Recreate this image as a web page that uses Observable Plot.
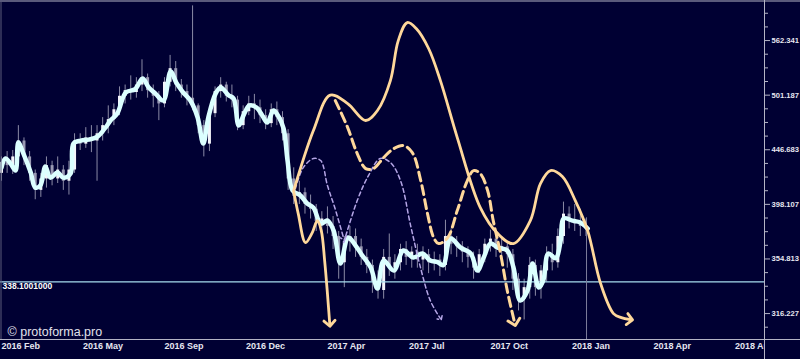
<!DOCTYPE html>
<html><head><meta charset="utf-8">
<script src="https://cdn.jsdelivr.net/npm/d3@7"></script>
<script src="https://cdn.jsdelivr.net/npm/@observablehq/plot@0.6"></script>
<style>html,body{margin:0;padding:0;background:#000033;overflow:hidden}</style>
</head><body><div id="chart"></div>
<script>
// x positions are in weeks since the first bar (2016 Feb)
const xTickWeeks = [0,14.5,29,43.5,58,72.5,87,101.5,116,130.5];
const xTickLabels = ["2016 Feb","2016 May","2016 Sep","2016 Dec","2017 Apr","2017 Jul","2017 Oct","2018 Jan","2018 Apr","2018 Aug"];
const yTickValues = [316.228,354.813,398.107,446.684,501.187,562.341];
const yTickLabels = ["316.227","354.813","398.107","446.683","501.187","562.341"];
const yMinorTicks = [307.26,325.46,334.97,344.75,365.17,375.83,386.81,409.73,421.69,434.0,459.73,473.15,486.96,515.82,530.88,546.38,578.76,595.66];

const candleOpen = [425,435,432,440,455,440,425,410,420,432, 420,428,418,428,455,452,458,455,462,470, 476,486,500,506,504,512,520,506,500,492, 515,530,512,505,498,490,470,452,482,505, 512,500,496,470,484,492,488,480,472,486, 478,462,420,405,408,398,394,384,386,380, 372,352,368,372,364,356,350,338,332,356, 348,352,362,356,360,354,358,352,354,350, 372,366,364,360,356,348,358,366,370,362, 364,358,340,326,334,350,334,346,358,352, 372,390,385,382,380];
const candleClose = [435,432,440,455,440,425,410,420,432,420, 428,418,428,455,452,458,455,462,470,476, 486,500,506,504,512,520,506,500,492,515, 530,512,505,498,490,470,452,482,505,512, 500,496,470,484,492,488,480,472,486,478, 462,420,405,408,398,394,384,386,380,372, 352,368,372,364,356,350,338,332,356,348, 352,362,356,360,354,358,352,354,350,372, 366,364,360,356,348,358,366,370,362,364, 358,340,326,334,350,334,346,358,352,372, 390,385,382,380,378];
const candleHigh = [440,445,446,470,458,445,428,425,440,436, 440,432,436,462,462,468,470,470,478,490, 492,510,512,522,520,540,524,512,505,520, 545,538,518,512,605,492,475,486,510,520, 515,512,500,490,500,502,496,486,492,494, 484,466,430,418,412,406,398,392,396,388, 376,372,380,378,370,362,354,346,362,374, 358,366,368,364,366,364,362,360,358,385, 378,372,368,364,360,362,370,377,374,372, 368,362,344,340,356,354,350,364,366,378, 400,396,398,394,386];
const candleLow = [418,425,424,436,432,418,402,404,412,414, 416,410,406,425,446,448,444,418,455,462, 470,480,492,496,498,505,498,488,475,488, 510,505,498,490,485,462,440,445,478,498, 494,488,465,466,480,476,472,466,468,470, 455,410,398,398,390,386,376,372,374,362, 340,334,360,356,350,344,330,326,326,342, 340,346,350,348,348,346,344,346,342,346, 358,356,352,348,340,344,352,360,356,352, 348,332,318,312,326,328,326,338,346,348, 366,378,376,372,372];

const priceWeek = [0,0.7,1.6,2.5,3.0,3.9,5.2,6.0,6.9,7.8,8.7,10.0,11.0,12.3,12.8,14.1,15.5,17.1,18.5,19.4,20.6,22.1,23.8,25.1,26.2,27.4,28.8,30.1,31.1,32.2,33.6,34.9,35.9,36.8,38.1,39.0,40.4,41.3,42.2,43.2,44.1,45.4,46.4,47.3,48.4,49.3,50.2,50.9,51.8,53.2,54.4,55.5,56.8,58.0,59.1,60.3,61.7,63.0,64.2,65.7,66.9,68.0,69.8,71.5,73.3,74.9,76.3,77.6,78.6,79.9,81.7,83.5,84.7,85.8,87.0,88.3,90.0,91.1,92.3,93.6,94.5,95.6,96.4,97.3,98.6,99.5,100.0,101.6,103.0,104.3];
const priceValue = [430.2,438.5,433.9,427.5,453.5,443.1,425.7,412.5,414.2,431.1,421.2,425.7,421.2,424.8,452.6,455.4,456.3,459.3,468.1,475.1,482.1,503.9,507.6,519.0,509.3,502.8,495.5,526.8,514.7,505.0,495.5,478.1,452.6,478.1,502.8,509.3,501.2,497.6,470.1,482.1,490.3,488.2,480.1,473.1,485.2,479.1,467.1,436.6,409.9,405.6,398.8,395.4,382.3,384.7,376.7,351.4,371.2,365.0,357.4,348.5,333.4,353.6,346.2,361.2,355.9,358.9,353.6,352.4,350.2,370.4,363.4,358.9,346.2,355.9,366.5,363.4,361.2,348.5,325.0,331.9,351.4,334.1,339.0,358.9,355.3,368.9,386.4,384.7,383.1,378.3];

const mainWeek = [52.0,55.5,58.5,61.6,64.8,66.9,69.2,70.6,72.2,73.8,76.0,78.1,81.1,85.2,88.3,91.1,94.1,95.9,97.7,99.8,102.1,104.3,106.6,108.9,110.3,111.8];
const mainValue = [409.9,465.1,501.2,492.4,475.1,485.2,516.8,562.3,584.1,576.8,553.0,516.8,458.3,395.4,374.3,366.5,384.7,416.0,427.5,422.1,401.3,376.7,336.9,316.2,313.5,312.3];
const shortWeek = [52.0,52.8,54.1,55.3,56.2,56.9,57.5,58.0,58.4];
const shortValue = [409.0,390.4,367.3,375.1,384.7,376.7,353.6,329.8,309.7];
const dashWeek = [59.4,61.6,63.3,64.8,66.2,68.0,69.8,71.5,73.1,74.6,75.8,76.9,77.8,79.4,81.1,82.9,84.0,85.2,86.5,87.5,88.8,90.0,91.3];
const dashValue = [495.5,468.1,443.1,429.3,429.3,439.4,447.8,450.7,444.0,418.6,390.4,371.2,366.5,371.2,392.9,418.6,427.5,424.8,409.9,384.7,358.9,331.9,310.3];
const lav1Week = [52.3,53.7,55.5,56.8,58.0,59.3,60.9];
const lav1Value = [411.6,430.2,438.5,436.6,414.2,395.4,370.4];
const lav2Week = [60.9,63.3,65.3,67.4,69.2,71.0,72.8,74.6,76.3,78.1];
const lav2Value = [367.3,401.3,423.0,438.5,434.8,418.6,380.7,347.7,325.0,312.9];

const levelValue = 338.1001;
const levelLabel = "338.1001000";
const cursorWeek = 104.1;
const copyright = "© protoforma.pro";

const BG = "#000033";
const rows = (ws, vs) => ws.map((w, i) => ({w, v: vs[i]}));
const candles = candleOpen.map((o, i) => ({w: i, o, c: candleClose[i], h: candleHigh[i], l: candleLow[i]}));
const xMin = -0.178, xMax = 135.77, yMin = 299.4, yMax = 611.9;
const axisColor = "#b4b4c6";

const chart = Plot.plot({
  width: 800, height: 359,
  marginLeft: 0, marginRight: 36, marginTop: 0, marginBottom: 20,
  style: {background: BG, color: "#e6e6f0", fontFamily: "'Liberation Sans', Arial, sans-serif", fontSize: "9px", fontWeight: "bold", overflow: "visible"},
  x: {domain: [xMin, xMax], axis: null},
  y: {type: "log", domain: [yMin, yMax], axis: null},
  marks: [
    Plot.ruleX(candles, {x: "w", y1: "l", y2: "h", stroke: "#8a8aa6", strokeWidth: 1}),
    Plot.ruleX(candles.filter(d => d.c < d.o), {x: "w", y1: "o", y2: "c", stroke: "#9a9ab4", strokeWidth: 3}),
    Plot.ruleX(candles.filter(d => d.c >= d.o), {x: "w", y1: "o", y2: "c", stroke: "#f4f4fa", strokeWidth: 3}),
    Plot.ruleY([levelValue], {x1: xMin, x2: xMax, stroke: "#a6dcef", strokeWidth: 1.3}),
    Plot.text([levelLabel], {x: xMin, y: levelValue, text: d => d, textAnchor: "start", lineAnchor: "top", dx: 2, dy: 1, fill: "#ffffff", fontSize: 8.5}),
    Plot.ruleX([cursorWeek], {y1: 387, y2: yMin, stroke: "#7c7c9c", strokeWidth: 1}),
    Plot.line(rows(priceWeek, priceValue), {x: "w", y: "v", stroke: "#dcffff", strokeWidth: 4.5, curve: "catmull-rom", strokeLinejoin: "round"}),
    Plot.line(rows(lav1Week, lav1Value), {x: "w", y: "v", stroke: "#b4a5e6", strokeWidth: 1.5, strokeDasharray: "4,3", curve: "catmull-rom", markerEnd: "arrow"}),
    Plot.line(rows(lav2Week, lav2Value), {x: "w", y: "v", stroke: "#b4a5e6", strokeWidth: 1.5, strokeDasharray: "4,3", curve: "catmull-rom", markerEnd: "arrow"}),
    Plot.line(rows(shortWeek, shortValue), {x: "w", y: "v", stroke: "#ffd89b", strokeWidth: 2.8, curve: "catmull-rom", markerEnd: "arrow"}),
    Plot.line(rows(mainWeek, mainValue), {x: "w", y: "v", stroke: "#ffd89b", strokeWidth: 2.8, curve: "catmull-rom", markerEnd: "arrow"}),
    Plot.line(rows(dashWeek, dashValue), {x: "w", y: "v", stroke: "#ffd89b", strokeWidth: 3, strokeDasharray: "9,5", curve: "catmull-rom", markerEnd: "arrow"}),
    Plot.text([copyright], {frameAnchor: "bottom-left", text: d => d, textAnchor: "start", lineAnchor: "bottom", dx: 7, dy: -4, fontSize: 12.5, fontWeight: "normal", fill: "#e2e2ec"}),
    Plot.axisX({ticks: xTickWeeks, tickFormat: d => xTickLabels[xTickWeeks.indexOf(d)], tickSize: 0, tickPadding: 3, textAnchor: "start", fill: "#e6e6f0", label: null}),
    Plot.rect([0], {x1: xMax, x2: 160, y1: 250, y2: yMin, fill: BG}),
    Plot.axisY({anchor: "right", ticks: yTickValues, tickFormat: d => yTickLabels[yTickValues.indexOf(d)], tickSize: 5, tickPadding: 2, stroke: axisColor, fill: "#e6e6f0", fontSize: 7.6, label: null}),
    Plot.axisY({anchor: "right", ticks: yMinorTicks, tickFormat: () => "", tickSize: 3, stroke: axisColor, label: null}),
    Plot.ruleY([yMin], {x1: xMin, x2: 160, stroke: axisColor, strokeWidth: 1}),
    Plot.ruleY([yMax], {x1: xMin, x2: 160, stroke: axisColor, strokeWidth: 1, dy: 0.5}),
    Plot.ruleX([xMax], {y1: 250, y2: yMax, stroke: axisColor, strokeWidth: 1}),
    Plot.ruleX([xMin], {y1: yMin, y2: yMax, stroke: "#5a5a7a", strokeWidth: 1, dx: 0.5})
  ]
});
document.getElementById("chart").appendChild(chart);
</script>
</body></html>
